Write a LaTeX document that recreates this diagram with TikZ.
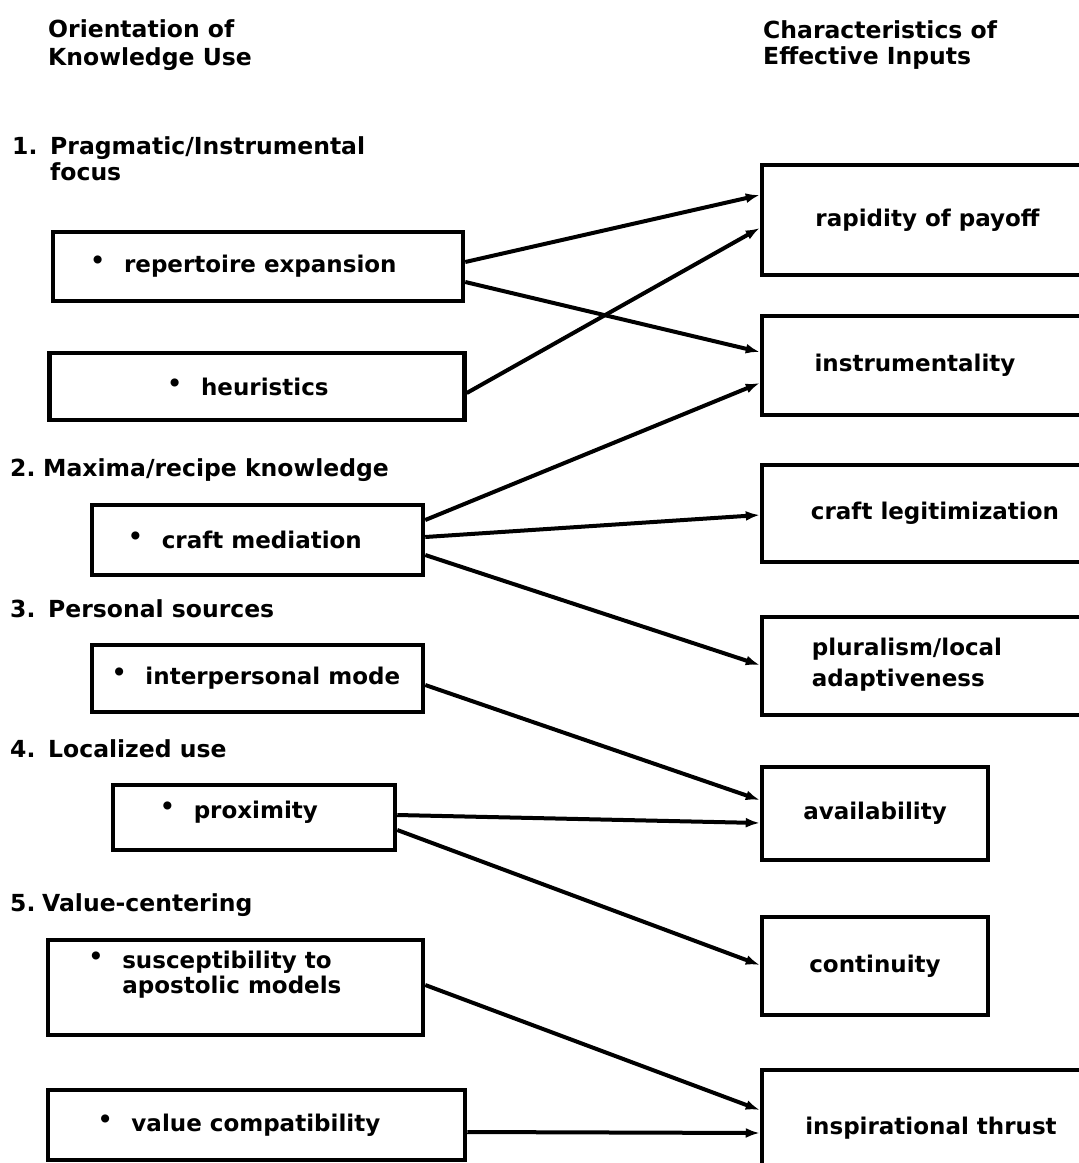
\documentclass[tikz,border=0pt]{standalone}
\usepackage{fontspec}
\setmainfont{DejaVu Sans}
\usetikzlibrary{arrows.meta}
\newcommand\mybul{\raisebox{4pt}{\textbullet}\kern19pt\relax}
\begin{document}
\begin{tikzpicture}[x=1pt,y=-1pt,
  hdr/.style={font=\bfseries\fontsize{23.5}{26}\selectfont, inner sep=0pt, anchor=base west},
  sec/.style={font=\bfseries\fontsize{23.5}{26}\selectfont, inner sep=0pt, anchor=base west},
  boxL/.style={draw, line width=4.5pt, inner sep=0pt, font=\bfseries\fontsize{23}{25}\selectfont},
  conn/.style={line width=4pt, -{Latex[length=14pt,width=10pt]}}]
\useasboundingbox (0,0) rectangle (1079,1163);
% headers
\node[hdr] (h1a) at (48,37) {Orientation of};
\node[hdr] (h1b) at (48,65) {Knowledge Use};
\node[hdr] (h2a) at (763,38) {Characteristics of};
\node[hdr] (h2b) at (763,64) {Effective Inputs};
% section titles
\node[sec] (s1n) at (12,154) {1.};
\node[sec] (s1) at (50,154) {Pragmatic/Instrumental};
\node[sec] (s1b) at (50,180) {focus};
\node[sec] (s2n) at (10,476) {2.};
\node[sec] (s2) at (43,476) {Maxima/recipe knowledge};
\node[sec] (s3n) at (10,617) {3.};
\node[sec] (s3) at (48,617) {Personal sources};
\node[sec] (s4n) at (10,757) {4.};
\node[sec] (s4) at (48,757) {Localized use};
\node[sec] (s5n) at (10,911) {5.};
\node[sec] (s5) at (42,911) {Value-centering};
% left boxes
\node[boxL, minimum width=410pt, minimum height=69pt] (rep) at (258,266.5) {\mybul repertoire expansion\kern29pt};
\node[boxL, minimum width=415pt, minimum height=67pt] (heur) at (257,386.5) {\mybul heuristics\kern18pt};
\node[boxL, minimum width=331pt, minimum height=70pt] (craft) at (257.5,540) {\mybul craft mediation\kern25pt};
\node[boxL, minimum width=331pt, minimum height=67pt] (inter) at (257.5,678.5) {\mybul interpersonal mode\kern3pt};
\node[boxL, minimum width=282pt, minimum height=65pt, text height=17.5pt, text depth=15pt] (prox) at (254,817.5) {\mybul proximity\kern30pt};
\node[boxL, minimum width=375pt, minimum height=95pt, text height=17.5pt, text depth=56.5pt] (susc) at (235.5,987.5)
  {\begin{tabular}[t]{@{}l@{}l@{}}\mybul & susceptibility to\\ & apostolic models\end{tabular}\kern41pt};
\node[boxL, minimum width=417pt, minimum height=70pt] (val) at (256.5,1125) {\mybul value compatibility\kern35pt};
% right boxes
\node[boxL, minimum width=338pt, minimum height=110pt] (rap) at (931,220) {rapidity of payoff\kern7pt};
\node[boxL, minimum width=338pt, minimum height=99pt] (instr) at (931,365.5) {instrumentality\kern32pt};
\node[boxL, minimum width=338pt, minimum height=97pt] (cleg) at (931,513.5) {\kern8pt craft legitimization};
\node[boxL, minimum width=338pt, minimum height=98pt, text height=17.5pt, text depth=39.5pt] (plur) at (931,666)
  {\begin{tabular}[t]{@{}l@{}}pluralism/local\\[6pt] adaptiveness\end{tabular}\kern48pt};
\node[boxL, minimum width=226pt, minimum height=93pt] (avail) at (875,813.5) {availability};
\node[boxL, minimum width=226pt, minimum height=98pt] (cont) at (875,966) {continuity};
\node[boxL, minimum width=338pt, minimum height=105pt, text height=30pt, text depth=5.4pt] (insp) at (931,1122.5) {inspirational thrust};
% connectors
\draw[conn] ([yshift=4.5pt]rep.east) -- ([yshift=25pt]rap.west);
\draw[conn] ([yshift=-15.5pt]rep.east) -- ([yshift=13.5pt]instr.west);
\draw[conn] ([yshift=-6.5pt]heur.east) -- ([yshift=-8pt]rap.west);
\draw[conn] ([yshift=20pt]craft.east) -- ([yshift=-17.5pt]instr.west);
\draw[conn] ([yshift=3pt]craft.east) -- ([yshift=-1.5pt]cleg.west);
\draw[conn] ([yshift=-15pt]craft.east) -- ([yshift=1pt]plur.west);
\draw[conn] ([yshift=-6.5pt]inter.east) -- ([yshift=13.5pt]avail.west);
\draw[conn] ([yshift=2.5pt]prox.east) -- ([yshift=-9.5pt]avail.west);
\draw[conn] ([yshift=-12.5pt]prox.east) -- ([yshift=1pt]cont.west);
\draw[conn] ([yshift=2.5pt]susc.east) -- ([yshift=12.5pt]insp.west);
\draw[conn] ([yshift=-7pt]val.east) -- ([yshift=-10.5pt]insp.west);
\end{tikzpicture}
\end{document}
